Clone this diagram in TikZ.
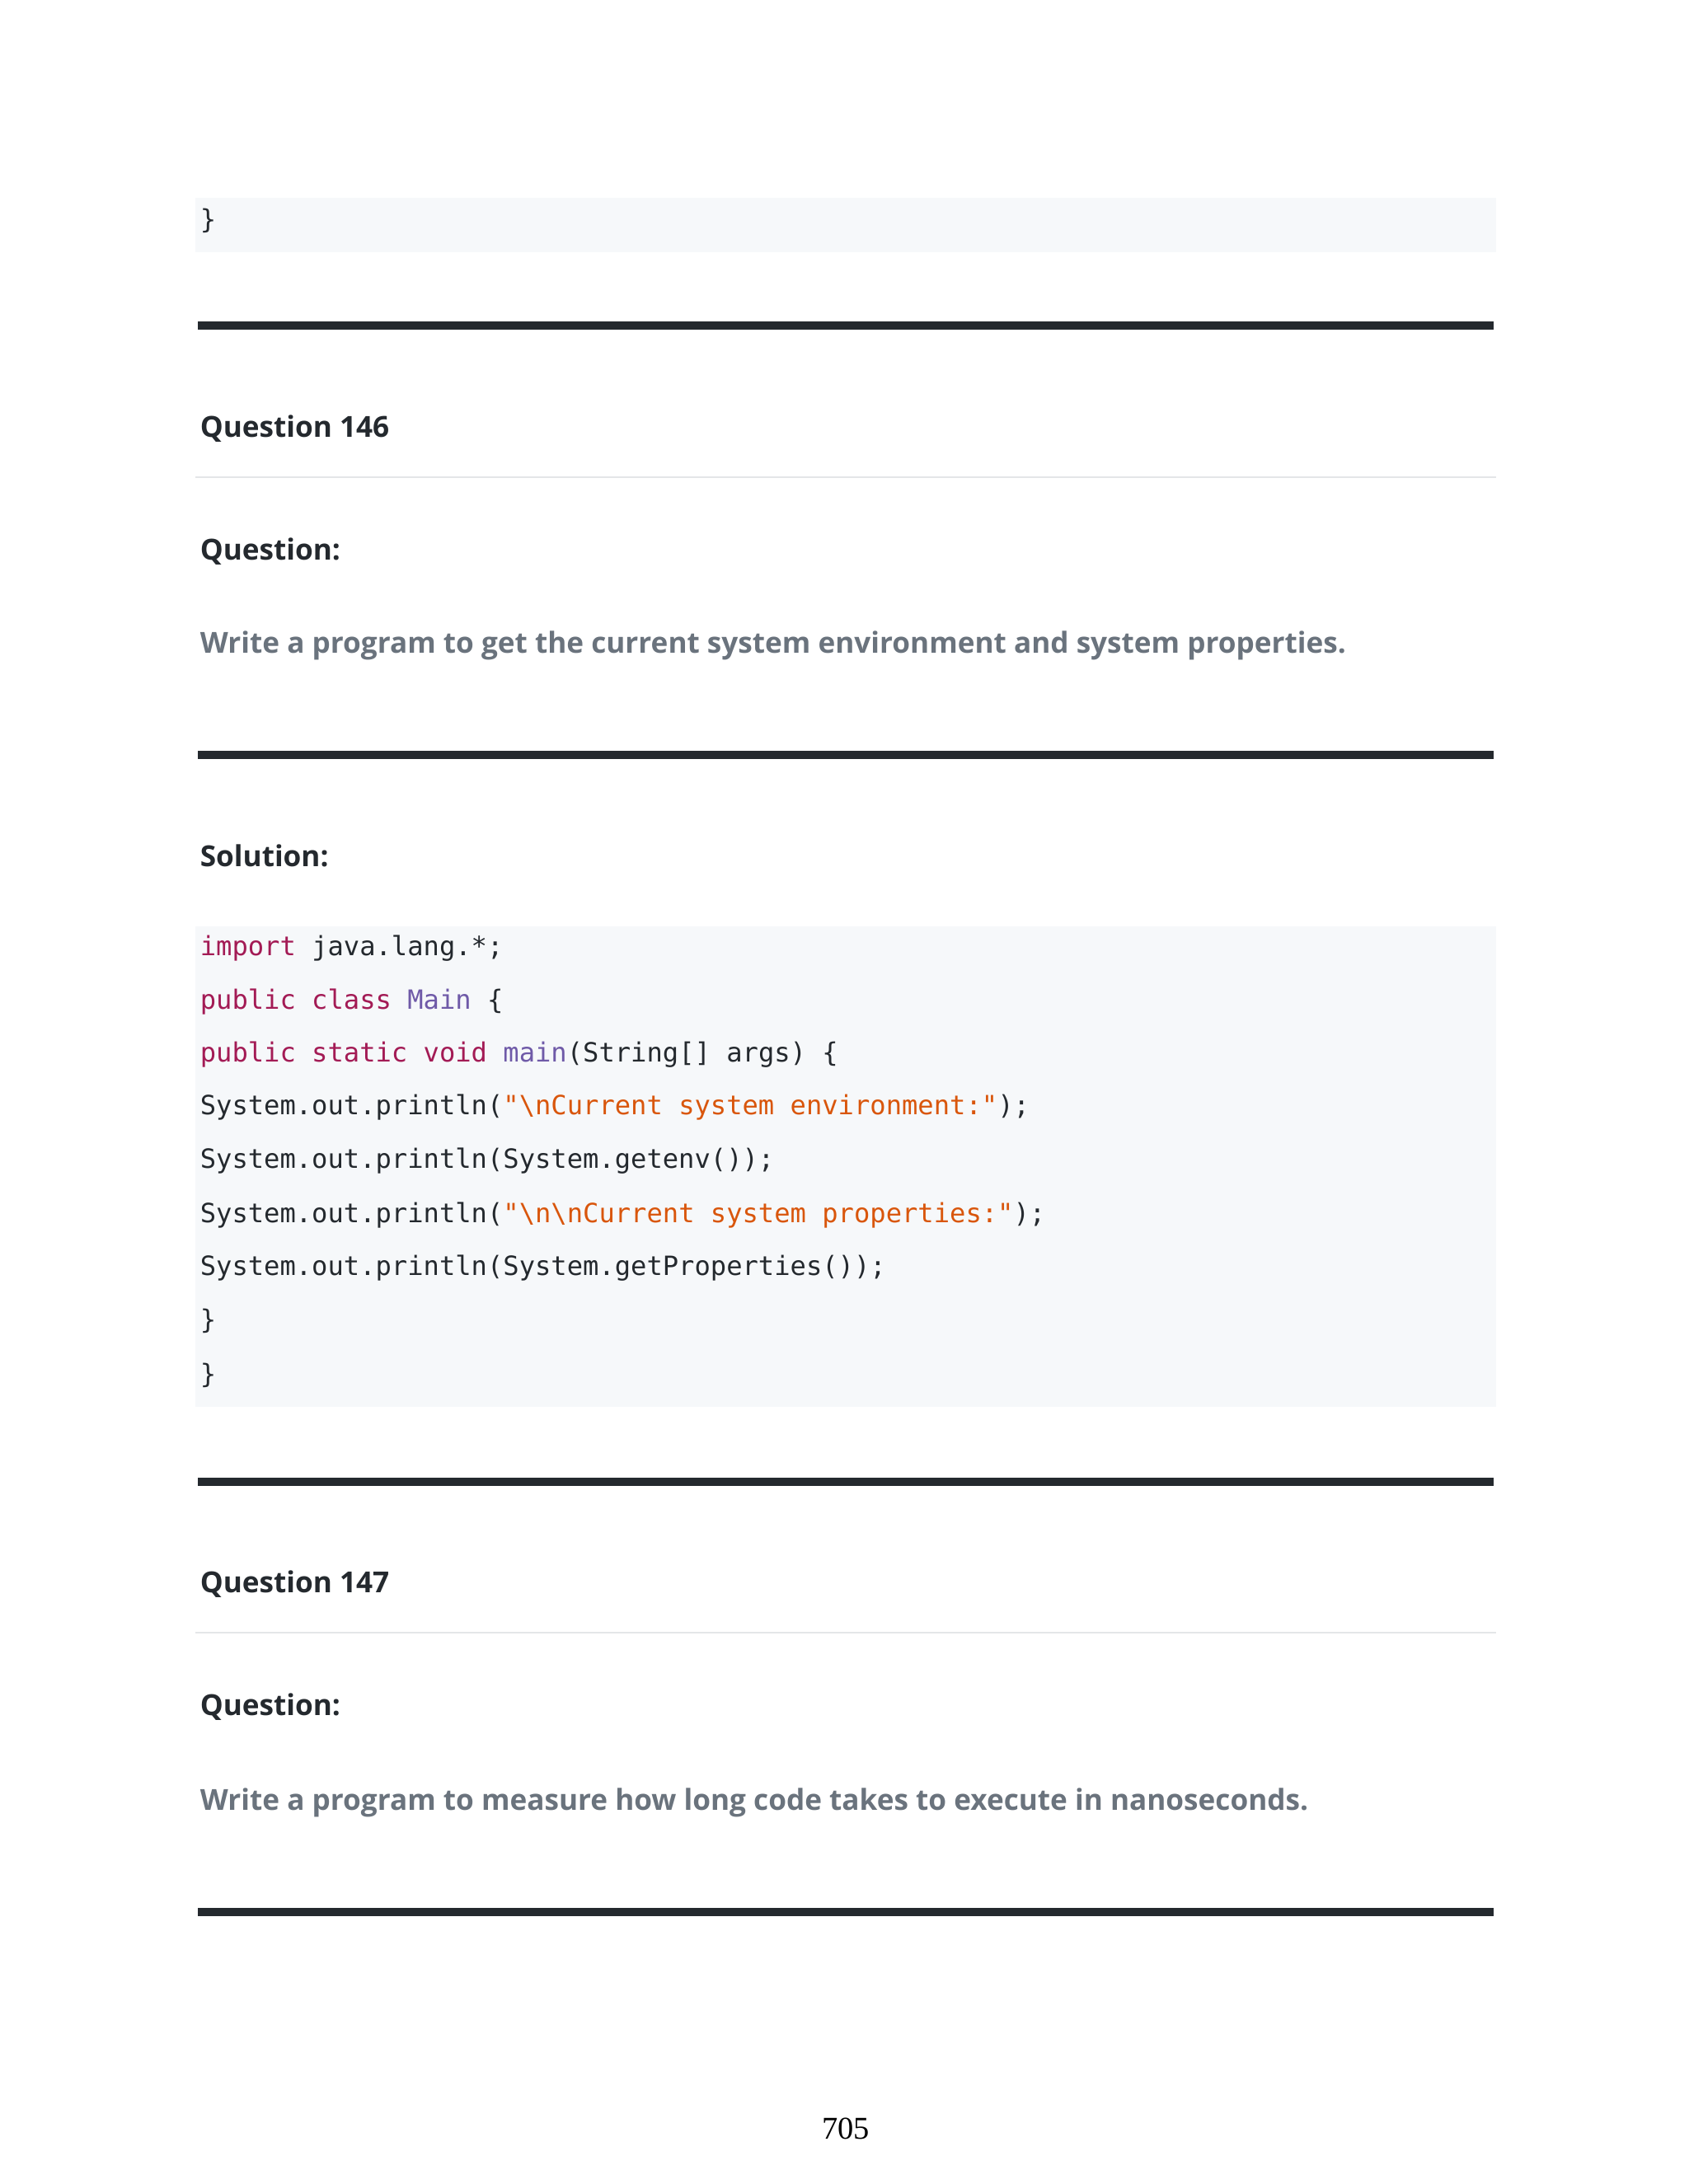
\documentclass[tikz,border=0pt]{standalone}
\usepackage{fontspec}
\setmainfont{Open Sans}
\setmonofont{DejaVu Sans Mono}
\newfontfamily\pagefont{Liberation Serif}
\definecolor{kw}{HTML}{A31B55}
\definecolor{cls}{HTML}{6F5AA8}
\definecolor{str}{HTML}{D9560C}
\definecolor{ink}{HTML}{24292E}
\definecolor{mute}{HTML}{6A737D}
\definecolor{codebg}{HTML}{F6F8FA}
\definecolor{rule}{HTML}{24292E}
\definecolor{thin}{HTML}{E4E6E8}
\begin{document}
\begin{tikzpicture}[x=0.5058pt,y=-0.5058pt,
  head/.style={anchor=base west,inner sep=0,font=\fontsize{10.5}{12}\selectfont\bfseries,text=ink},
  desc/.style={anchor=base west,inner sep=0,font=\fontsize{10.5}{12}\selectfont\bfseries,text=mute},
  code/.style={anchor=base west,inner sep=0,font=\fontsize{9.6}{11}\ttfamily,text=ink},
  thick rule/.style={draw=rule,line width=3pt},
  thin rule/.style={draw=thin,line width=0.6pt}]
\useasboundingbox (0,0) rectangle (1210,1565);
\fill[white] (0,0) rectangle (1210,1565);
% code blocks
\fill[codebg] (140,142) rectangle (1072,181);
\fill[codebg] (140,664) rectangle (1072,1008);
\node[code] (c0) at (143,164) {\}};
% rules
\coordinate (r1a) at (142,233); \coordinate (r1b) at (1070,233);
\draw[thick rule] (r1a) -- (r1b);
\node[head] (q146) at (143,313) {Question 146};
\coordinate (t1a) at (140,342); \coordinate (t1b) at (1072,342);
\draw[thin rule] (t1a) -- (t1b);
\node[head] (qa) at (143,401) {Question:};
\node[desc] (d1) at (143,468) {Write a program to get the current system environment and system properties.};
\coordinate (r2a) at (142,541); \coordinate (r2b) at (1070,541);
\draw[thick rule] (r2a) -- (r2b);
\node[head] (sol) at (143,621) {Solution:};
\node[code] (l1) at (143,685) {\textcolor{kw}{import} java.lang.*;};
\node[code] (l2) at (143,723) {\textcolor{kw}{public class} \textcolor{cls}{Main} \{};
\node[code] (l3) at (143,761) {\textcolor{kw}{public static void} \textcolor{cls}{main}(String[] args) \{};
\node[code] (l4) at (143,799) {System.out.println(\textcolor{str}{"\textbackslash nCurrent system environment:"});};
\node[code] (l5) at (143,837) {System.out.println(System.getenv());};
\node[code] (l6) at (143,876) {System.out.println(\textcolor{str}{"\textbackslash n\textbackslash nCurrent system properties:"});};
\node[code] (l7) at (143,914) {System.out.println(System.getProperties());};
\node[code] (l8) at (143,952) {\}};
\node[code] (l9) at (143,991) {\}};
\coordinate (r3a) at (142,1062); \coordinate (r3b) at (1070,1062);
\draw[thick rule] (r3a) -- (r3b);
\node[head] (q147) at (143,1141) {Question 147};
\coordinate (t2a) at (140,1170); \coordinate (t2b) at (1072,1170);
\draw[thin rule] (t2a) -- (t2b);
\node[head] (qb) at (143,1229) {Question:};
\node[desc] (d2) at (143,1297) {Write a program to measure how long code takes to execute in nanoseconds.};
\coordinate (r4a) at (142,1370); \coordinate (r4b) at (1070,1370);
\draw[thick rule] (r4a) -- (r4b);
\node[anchor=base,inner sep=0,font=\pagefont\fontsize{11.5}{13}\selectfont] (pg) at (606,1533) {705};
\end{tikzpicture}
\end{document}
